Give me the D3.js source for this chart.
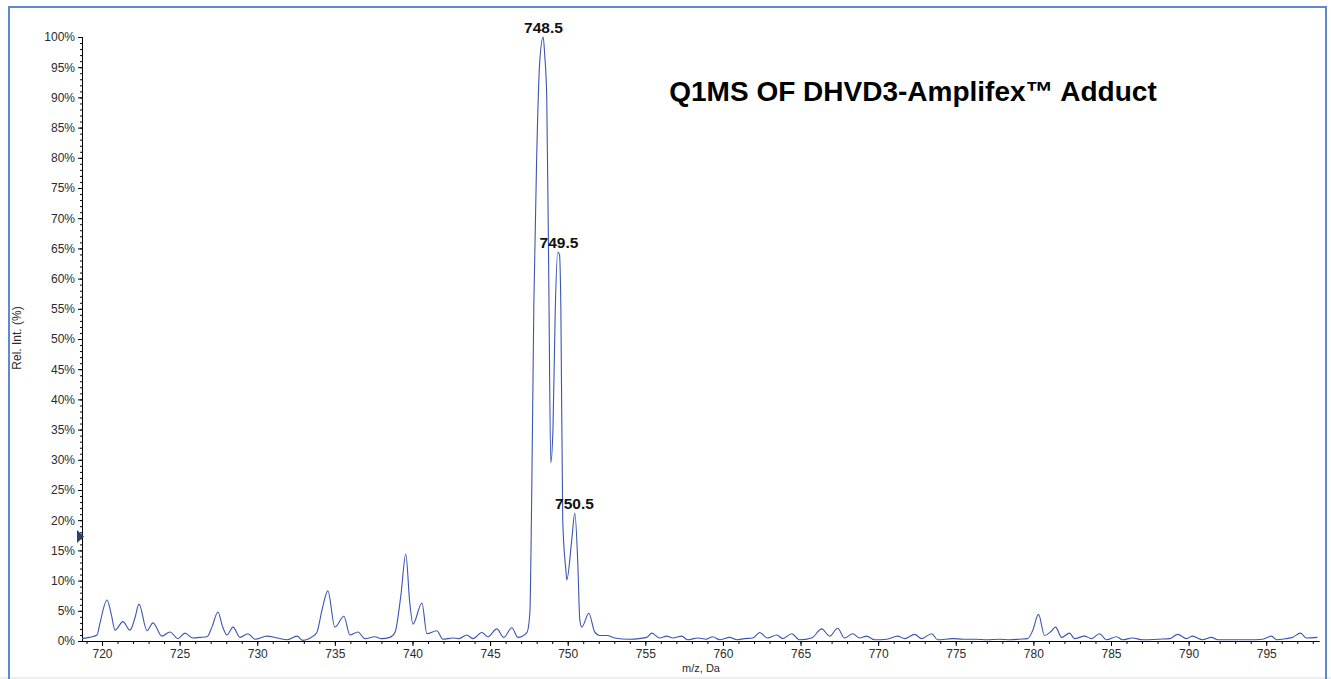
<!DOCTYPE html>
<html>
<head>
<meta charset="utf-8">
<script src="https://cdn.jsdelivr.net/npm/d3@7"></script>
<style>
  body { margin: 0; background: #fff; }
  svg { display: block; }
</style>
</head>
<body>
<script>
// spectrum: m/z (Da) and relative intensity (%)
const mz = [
  718.71, 719.2, 719.68, 719.87, 720.32, 720.58, 720.84, 721.35, 721.8, 722.12,
  722.38, 722.9, 723.28, 723.86, 724.38, 724.89, 725.34, 725.86, 726.3, 726.76,
  727.08, 727.47, 727.75, 728.05, 728.44, 728.89, 729.4, 729.85, 730.62, 731.3,
  731.91, 732.56, 732.94, 733.59, 733.84, 734.17, 734.55, 735.0, 735.58, 735.97,
  736.48, 736.93, 737.58, 738.0, 738.54, 738.87, 739.25, 739.57, 739.82, 740.03,
  740.61, 740.93, 741.57, 741.96, 742.6, 743.0, 743.5, 743.89, 744.47, 744.86,
  745.43, 745.89, 746.4, 746.79, 747.37, 747.56, 747.69, 747.82, 748.01, 748.2,
  748.42, 748.52, 748.65, 748.78, 748.91, 749.05, 749.2, 749.36, 749.47, 749.56,
  749.68, 749.88, 749.94, 750.26, 750.46, 750.65, 750.78, 750.91, 751.36, 751.74,
  752.07, 752.52, 753.03, 754.0, 754.6, 755.09, 755.42, 755.93, 756.38, 756.77,
  757.35, 757.73, 758.38, 758.9, 759.34, 759.79, 760.44, 760.89, 761.4, 761.92,
  762.37, 762.88, 763.46, 763.85, 764.43, 764.95, 765.72, 766.36, 766.88, 767.39,
  767.84, 768.36, 768.81, 769.26, 769.77, 770.55, 771.26, 771.71, 772.35, 772.8,
  773.45, 773.83, 774.8, 775.5, 776.3, 777.0, 777.8, 778.5, 779.11, 779.63,
  779.95, 780.33, 780.72, 781.1, 781.43, 781.82, 782.33, 782.65, 783.3, 783.75,
  784.26, 784.71, 785.36, 785.74, 786.39, 787.03, 788.13, 788.8, 789.29, 789.87,
  790.25, 790.9, 791.47, 791.86, 792.83, 793.92, 794.76, 795.34, 795.66, 796.3,
  796.69, 797.21, 797.59, 798.3
];
const relInt = [
  0.4, 0.6, 1.0, 3.0, 6.8, 4.6, 1.8, 3.2, 1.8, 3.8,
  6.1, 1.7, 3.0, 0.8, 1.5, 0.4, 1.3, 0.5, 0.6, 0.7,
  2.3, 4.8, 2.5, 1.0, 2.3, 0.6, 1.2, 0.3, 0.8, 0.5,
  0.2, 0.8, 0.1, 0.8, 1.4, 5.1, 8.3, 2.3, 4.1, 1.0,
  1.5, 0.4, 0.7, 0.4, 0.6, 1.4, 7.5, 14.4, 6.5, 2.8,
  6.3, 1.2, 1.7, 0.3, 0.5, 0.4, 1.0, 0.4, 1.4, 0.7,
  2.0, 0.6, 2.2, 0.6, 1.4, 4.6, 26, 56, 81, 96,
  100, 97, 90, 60, 29.5, 35, 55, 64.4, 64, 55,
  20, 11.8, 10.1, 16.7, 21.2, 12.9, 3.5, 2.3, 4.6, 1.5,
  0.9, 0.9, 0.5, 0.3, 0.4, 0.6, 1.3, 0.5, 0.8, 0.5,
  0.8, 0.2, 0.5, 0.3, 0.7, 0.2, 0.6, 0.2, 0.4, 0.5,
  1.4, 0.5, 1.0, 0.4, 1.2, 0.2, 0.5, 2.0, 0.8, 2.1,
  0.5, 1.2, 0.5, 0.8, 0.2, 0.3, 0.8, 0.4, 1.1, 0.4,
  1.2, 0.2, 0.4, 0.3, 0.3, 0.2, 0.3, 0.2, 0.3, 0.4,
  1.7, 4.4, 0.9, 1.5, 2.3, 0.6, 1.3, 0.4, 0.8, 0.4,
  1.2, 0.2, 0.7, 0.2, 0.5, 0.2, 0.3, 0.4, 1.1, 0.4,
  0.8, 0.2, 0.6, 0.2, 0.2, 0.2, 0.3, 0.8, 0.2, 0.4,
  0.6, 1.3, 0.5, 0.6
];

// labelled peaks
const peakMz = [748.5, 749.5, 750.5];
const peakInt = [100, 64.4, 21.2];
const peakText = ["748.5", "749.5", "750.5"];

const xTicks = d3.range(720, 800, 5);
const yTicks = d3.range(0, 101, 5);

const title = "Q1MS OF DHVD3-Amplifex\u2122 Adduct";
const markerLevel = 17.3; // threshold arrow on the y axis

const W = 1331, H = 679;
const svg = d3.select("body").append("svg").attr("width", W).attr("height", H);

// frame
svg.append("rect").attr("x", 0).attr("y", 677).attr("width", W).attr("height", 2).attr("fill", "#eeeeee");
svg.append("path")
  .attr("d", "M9,679 V7 H1326 V679")
  .attr("fill", "none").attr("stroke", "#5b8bcb").attr("stroke-width", 2);

const x = d3.scaleLinear().domain([718.71, 798.4]).range([82, 1319]);
const y = d3.scaleLinear().domain([0, 100]).range([641, 37]);

const font = "'Liberation Sans', Arial, sans-serif";

// y axis
const gy = svg.append("g").attr("transform", "translate(82,0)");
gy.call(d3.axisLeft(y).tickValues(d3.range(0, 101, 1)).tickSize(2).tickFormat(""));
gy.call(g => g.append("g").call(d3.axisLeft(y).tickValues(yTicks).tickSize(4).tickPadding(3).tickFormat(d => d + "%")));
gy.selectAll(".domain").attr("stroke", "#000");
gy.selectAll("line").attr("stroke", "#000");
gy.selectAll("text").attr("font-family", font).attr("font-size", 12).attr("fill", "#2b2b2b");

// x axis
const gx = svg.append("g").attr("transform", "translate(0,641)");
gx.call(d3.axisBottom(x).tickValues(d3.range(719, 799, 1)).tickSize(3).tickFormat("").tickSizeOuter(0));
gx.call(g => g.append("g").call(d3.axisBottom(x).tickValues(xTicks).tickSize(5).tickPadding(3).tickSizeOuter(0)));
gx.selectAll(".domain").attr("stroke", "#000");
gx.selectAll("line").attr("stroke", "#000");
gx.selectAll("text").attr("font-family", font).attr("font-size", 12).attr("fill", "#2b2b2b");

// spectrum
const pts = mz.map((m, i) => [m, relInt[i]]);
svg.append("path")
  .datum(pts)
  .attr("fill", "none")
  .attr("stroke", "#3c55b4")
  .attr("stroke-width", 1.1)
  .attr("d", d3.line().x(d => x(d[0])).y(d => y(d[1])).curve(d3.curveMonotoneX));

// peak labels
svg.selectAll(".peak").data(peakMz).enter().append("text")
  .attr("class", "peak")
  .attr("x", d => x(d) - 1)
  .attr("y", (d, i) => y(peakInt[i]) - 4)
  .attr("text-anchor", "middle")
  .attr("font-family", font).attr("font-weight", "bold").attr("font-size", 15.5)
  .attr("fill", "#111")
  .text((d, i) => peakText[i]);

// title
svg.append("text")
  .attr("x", 913).attr("y", 101)
  .attr("text-anchor", "middle")
  .attr("font-family", font).attr("font-weight", "bold").attr("font-size", 28)
  .attr("fill", "#000")
  .text(title);

// axis titles
svg.append("text")
  .attr("transform", "translate(21,338) rotate(-90)")
  .attr("text-anchor", "middle")
  .attr("font-family", font).attr("font-size", 12).attr("fill", "#2b2b2b")
  .text("Rel. Int. (%)");
svg.append("text")
  .attr("x", 701).attr("y", 672)
  .attr("text-anchor", "middle")
  .attr("font-family", font).attr("font-size", 11).attr("fill", "#2b2b2b")
  .text("m/z, Da");

// threshold marker on the y axis
const my = y(markerLevel);
svg.append("path")
  .attr("d", `M77,${my - 6.5} L84,${my} L77,${my + 6.5} Z`)
  .attr("fill", "#2d4270");
</script>
</body>
</html>
